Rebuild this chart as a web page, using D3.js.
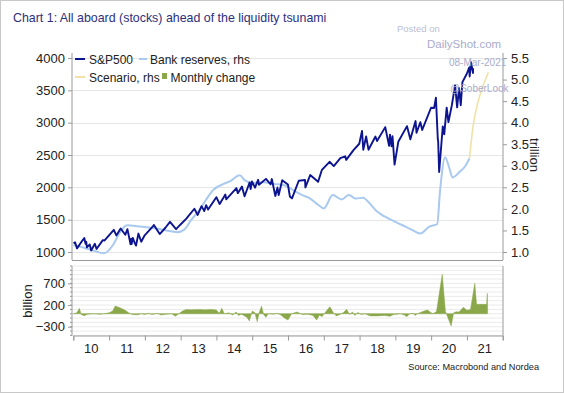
<!DOCTYPE html>
<html><head><meta charset="utf-8">
<script src="https://cdn.jsdelivr.net/npm/d3@7/dist/d3.min.js"></script>
<style>
html,body{margin:0;padding:0;background:#fff;}
svg{display:block;font-family:"Liberation Sans",Arial,sans-serif;}
</style></head>
<body><svg id="c" width="564" height="393"></svg>
<script>
// ---------- DATA ----------
const title = "Chart 1: All aboard (stocks) ahead of the liquidity tsunami";
const yearLabels = ["10","11","12","13","14","15","16","17","18","19","20","21"];
const leftTicks = [1000,1500,2000,2500,3000,3500,4000];
const rightTicks = [1.0,1.5,2.0,2.5,3.0,3.5,4.0,4.5,5.0,5.5];
const bottomTicks = [-300,200,700];

const spxDates = ["2010-01-04","2010-01-19","2010-02-08","2010-03-31","2010-04-23","2010-05-06","2010-05-13","2010-05-20","2010-06-18","2010-07-02","2010-08-09","2010-08-26","2010-10-29","2010-11-16","2010-12-31",
"2011-02-18","2011-03-16","2011-04-29","2011-06-15","2011-07-07","2011-08-08","2011-08-15","2011-08-19","2011-08-31","2011-09-22","2011-10-03","2011-10-27","2011-11-25","2011-12-30",
"2012-03-30","2012-04-02","2012-06-01","2012-07-31","2012-09-14","2012-11-15","2012-12-31",
"2013-02-28","2013-05-21","2013-06-24","2013-08-02","2013-08-30","2013-09-18","2013-10-08","2013-12-31",
"2014-02-03","2014-04-02","2014-04-11","2014-07-24","2014-08-07","2014-09-18","2014-10-15","2014-12-05","2014-12-16","2014-12-29",
"2015-01-30","2015-03-02","2015-03-11","2015-05-21","2015-07-08","2015-07-20","2015-08-25","2015-09-16","2015-09-28","2015-11-03","2015-12-31",
"2016-01-20","2016-02-11","2016-04-20","2016-06-23","2016-06-27","2016-08-15","2016-11-04","2016-12-13",
"2017-03-01","2017-04-13","2017-06-19","2017-08-07","2017-08-18","2017-10-31","2017-12-29",
"2018-01-26","2018-02-08","2018-03-09","2018-04-02","2018-06-12","2018-06-28","2018-09-20","2018-10-29","2018-11-07","2018-11-23","2018-12-03","2018-12-24",
"2019-01-31","2019-04-30","2019-06-03","2019-07-26","2019-08-05","2019-09-13","2019-10-02","2019-12-31",
"2020-01-31","2020-02-19","2020-03-09","2020-03-13","2020-03-23","2020-04-29","2020-05-14","2020-06-08","2020-06-26","2020-07-31","2020-09-02","2020-09-23","2020-10-12","2020-10-30","2020-11-16","2020-12-31",
"2021-01-25","2021-01-29","2021-02-12","2021-03-04","2021-03-05"];
const spxValues = [1133,1150,1056,1169,1217,1128,1157,1071,1117,1022,1127,1047,1183,1178,1258,
1343,1256,1364,1266,1354,1119,1204,1123,1219,1129,1099,1285,1159,1258,
1408,1419,1278,1379,1466,1353,1426,
1515,1669,1573,1709,1633,1725,1656,1848,
1742,1890,1815,1988,1910,2011,1862,2075,1972,2090,
1995,2117,2040,2131,2046,2128,1867,1996,1881,2109,2044,
1859,1829,2102,2113,2000,2190,2085,2271,
2395,2329,2453,2480,2425,2575,2674,
2873,2581,2786,2582,2786,2716,2931,2641,2814,2633,2790,2351,
2704,2946,2744,3025,2845,3007,2887,3231,
3226,3386,2747,2711,2237,2940,2820,3232,3009,3271,3580,3237,3535,3270,3627,3756,
3855,3714,3934,3768,3842];

// Bank reserves (trillion, rhs), time in decimal years
const resTimes = [2010.0,2010.3,2010.6,2010.85,2011.1,2011.3,2011.5,2011.8,2012.0,2012.3,2012.6,2012.9,
2013.1,2013.3,2013.5,2013.7,2013.9,2014.2,2014.4,2014.65,2014.8,2015.0,2015.3,2015.6,2015.9,
2016.15,2016.4,2016.6,2016.85,2017.0,2017.25,2017.5,2017.7,2017.9,2018.1,2018.2,2018.45,2018.8,
2019.0,2019.2,2019.45,2019.7,2019.95,2020.17,2020.25,2020.39,2020.5,2020.6,2020.8,2020.95,2021.07];
const resValues = [1.16,1.10,1.02,0.97,1.15,1.45,1.62,1.60,1.58,1.55,1.50,1.46,
1.52,1.75,1.95,2.20,2.43,2.58,2.65,2.78,2.66,2.60,2.62,2.58,2.55,
2.43,2.32,2.25,2.09,2.01,2.32,2.22,2.32,2.24,2.26,2.20,1.97,1.78,
1.70,1.62,1.52,1.43,1.59,1.65,2.43,3.20,2.97,2.73,2.86,2.99,3.17];

// Scenario (trillion, rhs)
const scenTimes = [2021.07,2021.17,2021.3,2021.45,2021.6];
const scenValues = [3.17,3.90,4.45,4.85,5.17];

// Monthly change (billion)
const chgTimes = [2010.0,2010.1,2010.17,2010.22,2010.3,2010.4,2010.6,2010.75,2010.85,
2011.0,2011.1,2011.17,2011.3,2011.45,2011.55,2011.65,2011.8,2011.9,
2012.0,2012.1,2012.2,2012.35,2012.45,2012.6,2012.75,2012.85,2012.95,
2013.05,2013.15,2013.3,2013.5,2013.7,2013.85,2014.0,2014.08,2014.15,2014.22,2014.35,2014.45,2014.55,2014.62,2014.7,2014.85,2014.92,
2015.0,2015.07,2015.14,2015.2,2015.26,2015.32,2015.38,2015.45,2015.6,2015.7,2015.8,2015.9,
2016.0,2016.1,2016.25,2016.4,2016.55,2016.7,2016.8,2016.88,2016.95,
2017.05,2017.17,2017.27,2017.35,2017.45,2017.55,2017.64,2017.72,2017.8,2017.87,2017.95,
2018.05,2018.15,2018.3,2018.5,2018.7,2018.85,2018.95,
2019.05,2019.15,2019.25,2019.32,2019.4,2019.5,2019.55,2019.62,2019.7,2019.8,2019.9,2019.97,
2020.05,2020.15,2020.31,2020.4,2020.45,2020.56,2020.63,2020.7,2020.78,2020.9,
2021.0,2021.1,2021.22,2021.27,2021.55,2021.57,2021.58];
const chgValues = [0,20,124,-20,-46,-10,0,-15,0,
20,60,177,140,80,20,-20,-25,0,
-20,10,-20,10,-30,-10,0,-60,0,
60,95,90,95,90,100,85,10,124,0,20,-30,40,-40,-10,-80,-168,
60,30,-184,40,177,-20,-83,0,-10,10,-30,-100,
-145,0,40,-20,-10,-40,-145,-30,-69,
40,161,20,-50,-20,30,101,-20,40,-40,30,
-20,0,-50,-50,-40,-60,-20,
-10,0,-30,-69,0,10,-40,0,30,60,85,40,
0,50,908,50,-50,-283,20,46,40,147,
80,100,700,216,216,470,0];

// ---------- CHART ----------
const svg = d3.select("#c");
const L = 72, R = 503;
const x = d3.scaleLinear().domain([2010, 2022]).range([73.3, 502.7]);
const yL = d3.scaleLinear().domain([1000, 4000]).range([252, 58]);
const yR = d3.scaleLinear().domain([1.0, 5.5]).range([252, 58]);
const yB = d3.scaleLinear().domain([-500, 1100]).range([335.4, 266]);

const C = {spx:"#0d1490", res:"#a9c9ef", scen:"#f0e2a6", chg:"#8aa84a", grid:"#e6e6e6", axis:"#9a9a9a", text:"#222"};

function toYear(s){const d=new Date(s+"T00:00:00Z");const y=d.getUTCFullYear();const s0=Date.UTC(y,0,1),s1=Date.UTC(y+1,0,1);return y+(d-s0)/(s1-s0);}

// outer frame
svg.append("rect").attr("x",0.5).attr("y",0.5).attr("width",563).attr("height",392).attr("fill","none").attr("stroke","#c8c8c8");

// title
svg.append("text").attr("x",13).attr("y",22).attr("fill","#2d2f7c").attr("font-size",12.4).text(title);

// top gridlines
svg.append("g").selectAll("line").data(leftTicks).join("line")
  .attr("x1",L).attr("x2",R).attr("y1",d=>Math.round(yL(d))+0.5).attr("y2",d=>Math.round(yL(d))+0.5)
  .attr("stroke",C.grid);

// bottom gridlines every 100
const minor = d3.range(-500,1101,100);
svg.append("g").selectAll("line").data(minor).join("line")
  .attr("x1",L).attr("x2",R).attr("y1",d=>yB(d)).attr("y2",d=>yB(d))
  .attr("stroke",C.grid).attr("stroke-width",0.8);

// left axis top
const gL = svg.append("g").attr("transform",`translate(${L},0)`)
  .call(d3.axisLeft(yL).tickValues(leftTicks).tickSize(4).tickPadding(3).tickFormat(d3.format("d")));
gL.select(".domain").remove();
gL.append("line").attr("x1",0).attr("x2",0).attr("y1",53).attr("y2",260).attr("stroke",C.axis);
// right axis
const gR = svg.append("g").attr("transform",`translate(${R},0)`)
  .call(d3.axisRight(yR).tickValues(rightTicks).tickSize(4).tickPadding(4).tickFormat(d3.format(".1f")));
gR.select(".domain").remove();
gR.append("line").attr("x1",0).attr("x2",0).attr("y1",53).attr("y2",260).attr("stroke",C.axis);
svg.append("line").attr("x1",L).attr("x2",R).attr("y1",260.5).attr("y2",260.5).attr("stroke",C.axis);

// bottom panel axes
const gB = svg.append("g").attr("transform",`translate(${L},0)`)
  .call(d3.axisLeft(yB).tickValues(bottomTicks).tickSize(4).tickPadding(3).tickFormat(d3.format("d")));
gB.select(".domain").remove();
svg.append("g").attr("transform",`translate(${L},0)`).selectAll("line").data(minor).join("line")
  .attr("x1",-2).attr("x2",0).attr("y1",d=>yB(d)).attr("y2",d=>yB(d)).attr("stroke",C.axis);
svg.append("line").attr("x1",L).attr("x2",L).attr("y1",266).attr("y2",335.5).attr("stroke",C.axis);
svg.append("line").attr("x1",R).attr("x2",R).attr("y1",266).attr("y2",335.5).attr("stroke",C.axis);

// x axis
const gX = svg.append("g").attr("transform","translate(0,335.5)")
  .call(d3.axisBottom(x).tickValues(d3.range(2010,2023)).tickSize(5).tickFormat(""));
gX.select(".domain").attr("stroke",C.axis);
svg.append("g").selectAll("text").data(yearLabels).join("text")
  .attr("x",(d,i)=>x(2010.5+i)).attr("y",353).attr("text-anchor","middle")
  .attr("font-size",13).attr("fill",C.text).text(d=>d);

[gL,gR,gB,gX].forEach(g=>{g.selectAll(".tick line").attr("stroke",C.axis);
  g.selectAll(".tick text").attr("font-size",13).attr("fill",C.text).attr("font-family","Liberation Sans, Arial, sans-serif");});

// axis titles
svg.append("text").attr("transform","translate(530,155) rotate(90)").attr("text-anchor","middle")
  .attr("font-size",13).attr("fill",C.text).text("trillion");
svg.append("text").attr("transform","translate(32,301) rotate(-90)").attr("text-anchor","middle")
  .attr("font-size",13).attr("fill",C.text).text("billion");

// green area
const chg = chgTimes.map((t,i)=>({t,v:chgValues[i]}));
svg.append("path").datum(chg)
  .attr("d",d3.area().x(d=>x(d.t)).y0(yB(0)).y1(d=>yB(d.v)))
  .attr("fill",C.chg).attr("stroke",C.chg).attr("stroke-width",0.5);

// reserves
const res = resTimes.map((t,i)=>({t,v:resValues[i]}));
svg.append("path").datum(res)
  .attr("d",d3.line().x(d=>x(d.t)).y(d=>yR(d.v)).curve(d3.curveMonotoneX))
  .attr("fill","none").attr("stroke",C.res).attr("stroke-width",2);
const scen = scenTimes.map((t,i)=>({t,v:scenValues[i]}));
svg.append("path").datum(scen)
  .attr("d",d3.line().x(d=>x(d.t)).y(d=>yR(d.v)).curve(d3.curveMonotoneX))
  .attr("fill","none").attr("stroke",C.scen).attr("stroke-width",1.6);

// S&P
const spx = spxDates.map((s,i)=>({t:toYear(s),v:spxValues[i]}));
svg.append("path").datum(spx)
  .attr("d",d3.line().x(d=>x(d.t)).y(d=>yL(d.v)))
  .attr("fill","none").attr("stroke",C.spx).attr("stroke-width",1.9).attr("stroke-linejoin","round");

// legend
const lg = svg.append("g").attr("font-size",12).attr("fill",C.text);
lg.append("line").attr("x1",75).attr("x2",85).attr("y1",59).attr("y2",59).attr("stroke",C.spx).attr("stroke-width",2);
lg.append("text").attr("x",89).attr("y",63.5).text("S&P500");
lg.append("line").attr("x1",139).attr("x2",147).attr("y1",59).attr("y2",59).attr("stroke",C.res).attr("stroke-width",2);
lg.append("text").attr("x",150).attr("y",63.5).text("Bank reserves, rhs");
lg.append("line").attr("x1",75).attr("x2",85).attr("y1",77).attr("y2",77).attr("stroke",C.scen).attr("stroke-width",2);
lg.append("text").attr("x",89).attr("y",81.5).text("Scenario, rhs");
lg.append("rect").attr("x",162).attr("y",73).attr("width",5).attr("height",6).attr("fill",C.chg);
lg.append("text").attr("x",170.5).attr("y",81.5).text("Monthly change");

// source
svg.append("text").attr("x",539).attr("y",370).attr("text-anchor","end").attr("font-size",9.2)
  .attr("fill",C.text).text("Source: Macrobond and Nordea");

// watermark
const wm = svg.append("g").attr("fill","#a9abcc").attr("font-family","Liberation Sans, Arial, sans-serif");
wm.append("text").attr("x",397).attr("y",32).attr("font-size",9.5).attr("fill-opacity",0.8).text("Posted on");
wm.append("text").attr("x",427).attr("y",48).attr("font-size",11.5).text("DailyShot.com");
wm.append("text").attr("x",449).attr("y",66).attr("font-size",10).text("08-Mar-2021");
wm.append("text").attr("x",450).attr("y",92).attr("font-size",10).text("@SoberLook");
</script></body></html>
